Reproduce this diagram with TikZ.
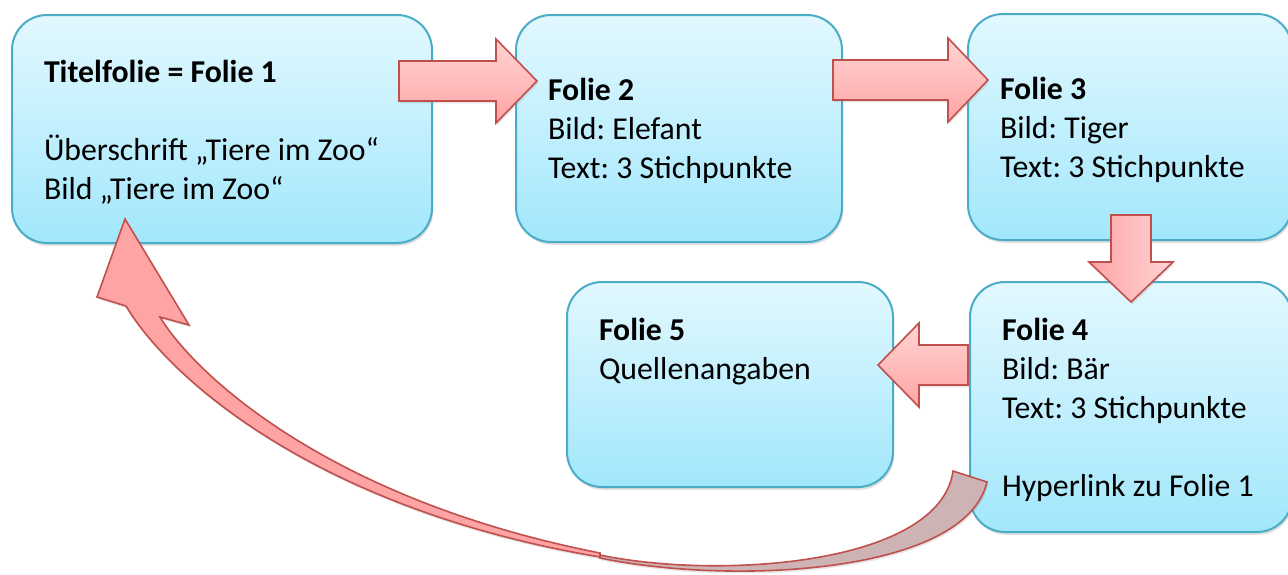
\documentclass[tikz,border=0pt]{standalone}
\usepackage{fontspec}
\setmainfont{Carlito}
\usetikzlibrary{shadows}

\definecolor{folierand}{HTML}{4BACC6}
\definecolor{folieoben}{HTML}{E2F8FE}
\definecolor{folieunten}{HTML}{A2E7FC}
\definecolor{pfeilrand}{HTML}{C0504D}
\definecolor{pfeilhell}{HTML}{FFD4D4}
\definecolor{pfeildunkel}{HTML}{FFA4A4}
\definecolor{pfeilrueck}{HTML}{CDB3B3}

\tikzset{
  folie/.style 2 args={draw=folierand, line width=1pt, rounded corners=17.5pt,
    top color=folieoben, bottom color=folieunten,
    minimum width=#1, minimum height=#2, text width=#1-32pt,
    align=left, inner xsep=16pt, inner ysep=0pt, text height=14pt,
    font=\fontsize{15.9}{19.5}\selectfont,
    execute at begin node={\spaceskip=0pt\xspaceskip=0pt\frenchspacing},
    drop shadow={shadow xshift=0.6pt, shadow yshift=-1.4pt, opacity=0.25}},
  pfeil/.style={draw=pfeilrand, line width=0.8pt, line join=miter,
    drop shadow={shadow xshift=0.6pt, shadow yshift=-1.2pt, opacity=0.2}}
}

% Blockpfeil waagrecht: Schaft-Anfang, Kopf-Ansatz, Spitze, y
\newcommand{\pfeilH}[4]{%
  \draw[pfeil, top color=pfeilhell, bottom color=pfeildunkel]
    (#1,#4-20) -- (#2,#4-20) -- (#2,#4-42) -- (#3,#4) -- (#2,#4+42)
    -- (#2,#4+20) -- (#1,#4+20) -- cycle;}
% Blockpfeil senkrecht: x, Schaft-Anfang, Kopf-Ansatz, Spitze
\newcommand{\pfeilV}[4]{%
  \draw[pfeil, left color=pfeildunkel, right color=pfeilhell]
    (#1-20,#2) -- (#1-20,#3) -- (#1-42,#3) -- (#1,#4) -- (#1+42,#3)
    -- (#1+20,#3) -- (#1+20,#2) -- cycle;}

\begin{document}
\begin{tikzpicture}[x=0.5pt,y=-0.5pt]
\useasboundingbox (0,0) rectangle (1288,574);

\node[folie={210pt}{114pt}] (f1) at (222,129)
{\textbf{Titelfolie = Folie 1}\\~\\Überschrift „Tiere im Zoo“\\Bild „Tiere im Zoo“};

\node[folie={163pt}{113.5pt}] (f2) at (679,128.5)
{\textbf{Folie 2}\\Bild: Elefant\\Text: 3 Stichpunkte};

\node[folie={162pt}{113pt}] (f3) at (1130,127)
{\textbf{Folie 3}\\Bild: Tiger\\Text: 3 Stichpunkte};

\node[folie={161pt}{125pt}] (f4) at (1131,407)
{\textbf{Folie 4}\\Bild: Bär\\Text: 3 Stichpunkte\\~\\Hyperlink zu Folie 1};

\node[folie={163pt}{102.5pt}] (f5) at (730,384.5)
{\textbf{Folie 5}\\Quellenangaben\\~\\~};

\pfeilH{399}{496}{537}{81}
\pfeilH{833}{948}{988}{80}
\pfeilV{1131}{215}{262}{302}
\pfeilH{968}{919}{878}{365}

% gebogener Pfeil zurueck zur Titelfolie
\draw[pfeil, fill=pfeilrueck] (953,471) .. controls (940,565) and (720,580) .. (600,555)
  -- (600,558) .. controls (730,585) and (965,575) .. (987,482) -- cycle;
\draw[pfeil, fill=pfeildunkel] (600,553) .. controls (330,500) and (195,375) .. (160,317)
  -- (189,325) -- (125,219) -- (97,297) -- (126,306)
  .. controls (170,380) and (320,510) .. (600,557) -- cycle;

\end{tikzpicture}
\end{document}
